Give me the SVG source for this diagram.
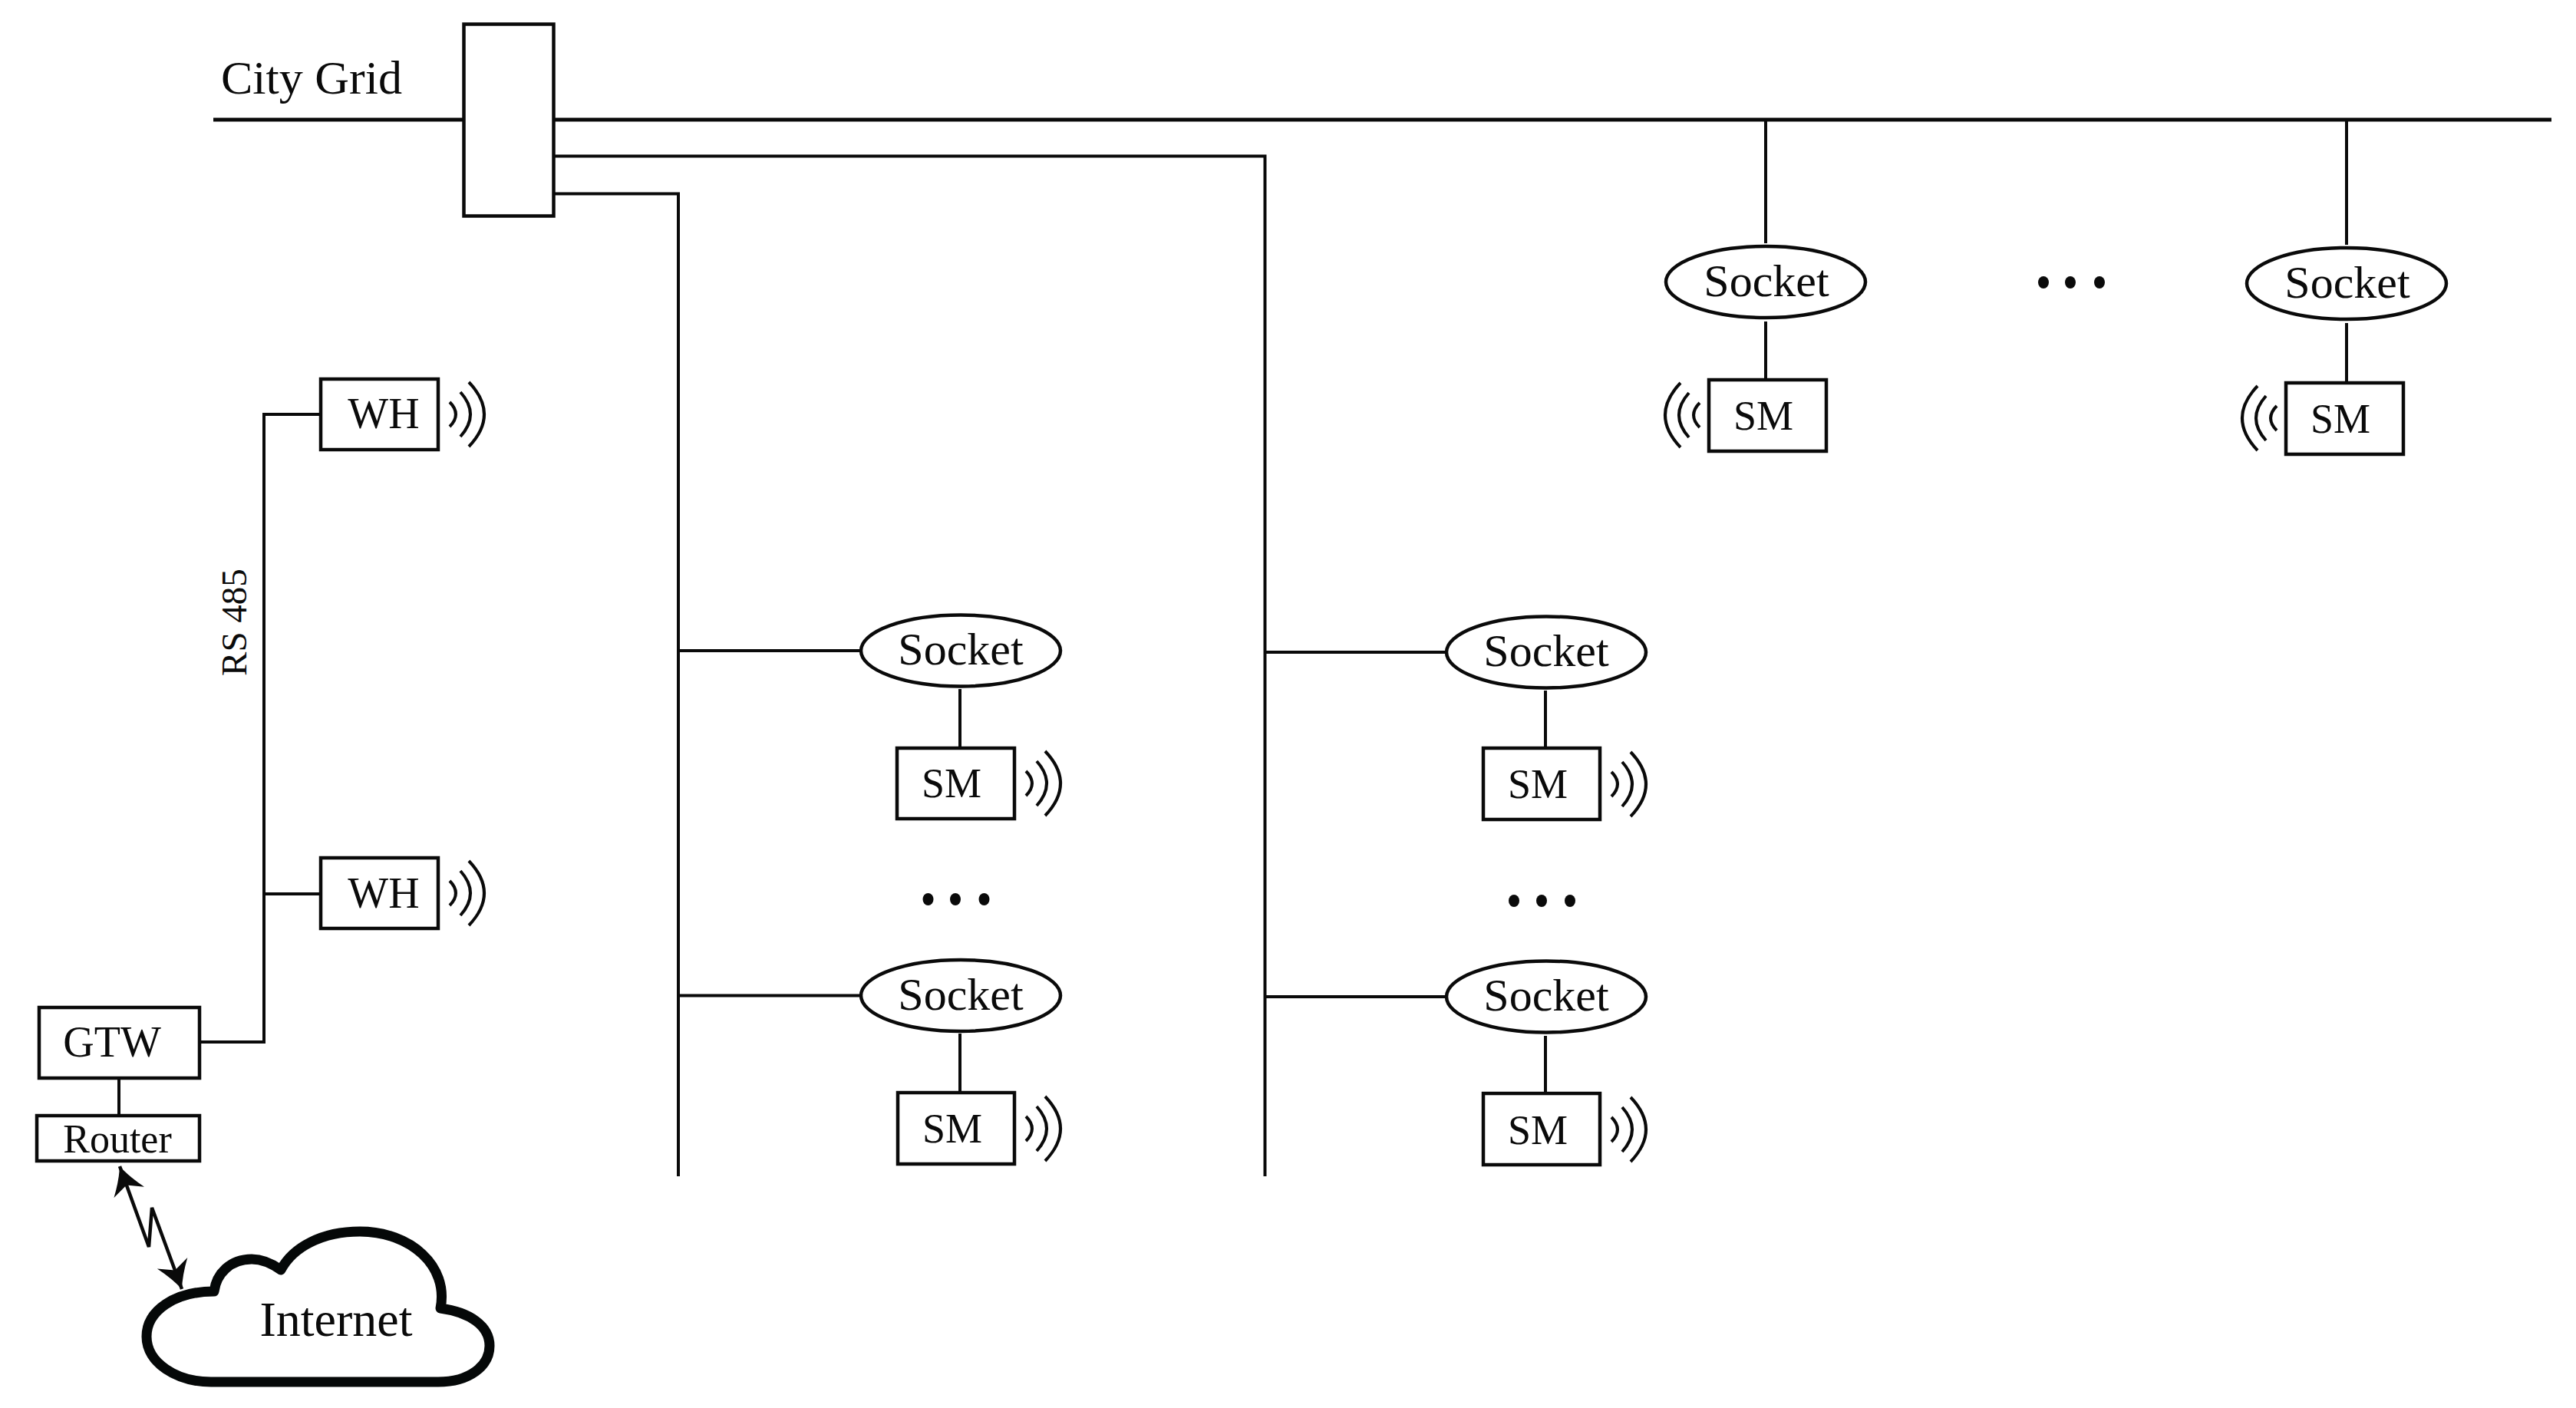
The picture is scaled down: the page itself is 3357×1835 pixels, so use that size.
<svg xmlns="http://www.w3.org/2000/svg" width="3357" height="1835" viewBox="0 0 3357 1835">
<style>
text{font-family:"Liberation Serif","Times New Roman",serif;fill:#0a0a0a;text-anchor:middle}
.w{stroke:#0a0a0a;fill:none;stroke-width:4}
.g{stroke:#0a0a0a;fill:none;stroke-width:5}
.b{stroke:#0a0a0a;fill:#fff;stroke-width:4.500}
.t60{font-size:60px}.t56{font-size:56px}.t54{font-size:54px}.t52{font-size:52px}.t47{font-size:47px}
.d{fill:#0a0a0a}
</style>
<defs>
<g id="waves" class="w"><path d="M13-16Q29 0 13 16"/><path d="M27-29Q53 0 27 29"/><path d="M38-42Q78 0 38 42"/></g>
<marker id="head" markerUnits="userSpaceOnUse" viewBox="-40 -25 45 50" refX="0" refY="0" markerWidth="45" markerHeight="50" orient="auto-start-reverse">
<path d="M0 0Q-17-7-36-21L-26 0-36 21Q-17 7 0 0Z" fill="#0a0a0a"/>
</marker>
</defs>
<rect width="3357" height="1835" fill="#fff"/>
<g id="connectors">
<path class="g" d="M278 156H3325"/>
<path class="w" d="M722 203.500H1648.500V1533"/>
<path class="w" d="M722 252.500H884V1533"/>
<path class="w" d="M2301 156V317M2301 419V493"/>
<path class="w" d="M3058 156V319M3058 421V497"/>
<path class="w" d="M884 848H1122M1251 898V973"/>
<path class="w" d="M884 1297.500H1122M1251 1347V1424"/>
<path class="w" d="M1648 850H1885M2014 900V975"/>
<path class="w" d="M1648 1299H1885M2014 1350V1424"/>
<path class="w" d="M416 540H344V1358H262M344 1165H416"/>
<path class="w" d="M155 1407V1452"/>
<path stroke="#0a0a0a" fill="none" stroke-width="4.500" d="M156 1520L194 1625 198 1574 237 1680" marker-start="url(#head)" marker-end="url(#head)"/>
</g>
<g id="city-grid-label"><text x="406" y="122" style="font-size:62px">City Grid</text></g>
<g id="breaker"><rect class="b" x="604.500" y="31.500" width="117" height="250"/></g>
<g id="rs485-label"><text class="t47" transform="translate(321 811) rotate(-90)">RS 485</text></g>
<g id="wh-1"><rect class="b" x="418" y="494" width="153" height="92"/><text class="t56" x="500" y="558">WH</text><use href="#waves" transform="translate(573 540)"/></g>
<g id="wh-2"><rect class="b" x="418" y="1118" width="153" height="92"/><text class="t56" x="500" y="1183">WH</text><use href="#waves" transform="translate(573 1164)"/></g>
<g id="gtw"><rect class="b" x="51" y="1313" width="209" height="92"/><text class="t56" x="146" y="1377">GTW</text></g>
<g id="router"><rect class="b" x="48" y="1454" width="212" height="59"/><text class="t52" x="153" y="1502">Router</text></g>
<g id="internet"><path d="M275 1801H571C612 1801 638 1780 638 1754C638 1728 612 1710 574 1705C585 1650 535 1605 469 1605C420 1605 382 1625 366 1655C352 1645 340 1641 328 1641C300 1641 282 1660 279 1683C228 1683 191 1708 191 1742C191 1776 230 1801 275 1801Z" fill="#fff" stroke="#050808" stroke-width="13" stroke-linejoin="round"/><text x="438" y="1741" style="font-size:64px">Internet</text></g>
<g id="socket-top-1"><ellipse class="b" cx="2301" cy="367.500" rx="130" ry="46.500"/><text class="t60" x="2302" y="386">Socket</text></g>
<g id="sm-top-1"><rect class="b" x="2227" y="495" width="153" height="93"/><text class="t54" x="2298" y="560">SM</text><use href="#waves" transform="translate(2228 541) scale(-1 1)"/></g>
<g id="socket-top-2"><ellipse class="b" cx="3058" cy="369.500" rx="130" ry="46.500"/><text class="t60" x="3059" y="388">Socket</text></g>
<g id="sm-top-2"><rect class="b" x="2979" y="499" width="153" height="93"/><text class="t54" x="3050" y="564">SM</text><use href="#waves" transform="translate(2980 545) scale(-1 1)"/></g>
<g id="socket-a1"><ellipse class="b" cx="1252" cy="848" rx="130" ry="46.500"/><text class="t60" x="1252" y="866">Socket</text></g>
<g id="sm-a1"><rect class="b" x="1169" y="975" width="153" height="92"/><text class="t54" x="1240" y="1039">SM</text><use href="#waves" transform="translate(1324 1021)"/></g>
<g id="socket-a2"><ellipse class="b" cx="1252" cy="1297.500" rx="130" ry="46.500"/><text class="t60" x="1252" y="1316">Socket</text></g>
<g id="sm-a2"><rect class="b" x="1170" y="1424" width="152" height="93"/><text class="t54" x="1241" y="1489">SM</text><use href="#waves" transform="translate(1324 1471)"/></g>
<g id="socket-b1"><ellipse class="b" cx="2015" cy="850" rx="130" ry="46.500"/><text class="t60" x="2015" y="868">Socket</text></g>
<g id="sm-b1"><rect class="b" x="1933" y="975" width="152" height="93"/><text class="t54" x="2004" y="1040">SM</text><use href="#waves" transform="translate(2087 1022)"/></g>
<g id="socket-b2"><ellipse class="b" cx="2015" cy="1299" rx="130" ry="46.500"/><text class="t60" x="2015" y="1317">Socket</text></g>
<g id="sm-b2"><rect class="b" x="1933" y="1425" width="152" height="93"/><text class="t54" x="2004" y="1491">SM</text><use href="#waves" transform="translate(2087 1472)"/></g>
<g id="dots"><ellipse class="d" cx="2663" cy="368" rx="7" ry="8"/><ellipse class="d" cx="2698" cy="368" rx="7" ry="8"/><ellipse class="d" cx="2736" cy="368" rx="7" ry="8"/>
<ellipse class="d" cx="1209.500" cy="1172" rx="7" ry="8"/><ellipse class="d" cx="1245" cy="1172" rx="7" ry="8"/><ellipse class="d" cx="1282.500" cy="1172" rx="7" ry="8"/>
<ellipse class="d" cx="1973" cy="1174" rx="7" ry="8"/><ellipse class="d" cx="2009" cy="1174" rx="7" ry="8"/><ellipse class="d" cx="2046" cy="1174" rx="7" ry="8"/></g>
</svg>
